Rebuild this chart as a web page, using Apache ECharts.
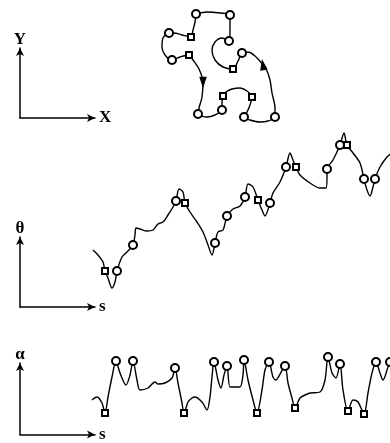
<!DOCTYPE html>
<html>
<head>
<meta charset="utf-8">
<script src="https://cdn.jsdelivr.net/npm/echarts@6/dist/echarts.min.js"></script>
<style>
  html, body { margin: 0; padding: 0; background: #fff; }
  #chart { width: 390px; height: 443px; }
</style>
</head>
<body>
<div id="chart"></div>
<script>
// closed contour in the X-Y plane: [x, y, marker]
const contourXY = [
  [46,116,'o'],[45,108],[43,100],[41,93,'s'],[32,95],[24,97],[19,97,'o'],
  [13,92],[12,83],[15,75],[22,70,'o'],[30,73],[39,75,'s'],[43,70],[49,61],
  [53,48,'dn'],[52,33],[49,22],[48,16,'o'],[57,13],[65,15],[72,20,'o'],
  [72,27],[73,34,'s'],[76,38],[82,41],[90,42],[97,39],[102,33,'s'],[100,25],
  [97,18],[94,13,'o'],[100,10],[110,8],[118,9],[125,13,'o'],[125,22],[122,37],
  [120,50],[117,59],[113,65,'up'],[105,74],[98,78],[92,77,'o'],[88,69],
  [83,61,'s'],[73,63],[65,70],[62,80],[65,88],[72,92],[79,89,'o'],[80,100],
  [80,115,'o'],[70,117],[57,118],[46,116]
];

// tangent angle theta versus arc length s
const thetaS = [
  [3,50],[8,45],[13,38],[15,29,'s'],[18,22],[22,12],[25,18],[27,29,'o'],
  [32,43],[37,48],[43,55,'o'],[45,65],[46,72],[50,71],[57,69],[63,70],
  [68,76],[73,78],[78,85],[83,93],[86,99,'o'],[89,111],[93,108],[95,97,'s'],
  [100,88],[107,78],[113,68],[118,55],[122,45],[125,57,'o'],[128,68],
  [133,70],[137,84,'o'],[143,91],[150,94],[155,103,'o'],[158,116],[163,113],
  [168,100,'s'],[172,90],[175,84],[180,97,'o'],[183,107],[190,118],
  [196,133,'o'],[200,147],[203,140],[206,133,'s'],[210,125],[220,117],
  [230,112],[236,112],[237,123],[237,131,'o'],[243,140],[250,155,'o'],
  [254,167],[257,155,'s'],[263,147],[270,137],[274,121,'o'],[277,110],
  [280,104],[283,113],[285,121,'o'],[290,133],[297,143],[302,147]
];

// curvature alpha versus arc length s
const alphaS = [
  [2,30],[7,33],[12,27],[15,17,'s'],[18,33],[22,53],[26,69,'o'],[30,57],
  [36,45],[40,55],[43,69,'o'],[47,50],[50,40],[58,42],[65,48],[68,46],
  [75,47],[82,52],[85,62,'o'],[88,47],[92,27],[94,17,'s'],[98,28],[102,32],
  [105,33],[112,28],[117,20],[120,33],[122,53],[124,68,'o'],[128,50],
  [131,42],[134,55],[137,64,'o'],[140,43],[145,43],[150,43],[153,55],
  [154,70,'o'],[158,50],[163,30],[167,17,'s'],[172,40],[175,60],[179,68,'o'],
  [183,53],[186,50],[189,54],[195,64,'o'],[198,47],[202,32],[205,22,'s'],
  [210,32],[215,35],[220,37],[230,38],[235,50],[238,73,'o'],[242,57],
  [246,52],[250,66,'o'],[253,40],[258,19,'s'],[263,30],[268,28],[274,16,'s'],
  [278,37],[282,57],[286,68,'o'],[290,57],[293,50],[298,63],[300,68,'o']
];

const markStyle = {
  o: { symbol: 'emptyCircle', symbolSize: 8 },
  s: { symbol: 'emptyRect', symbolSize: 6 },
  dn: { symbol: 'triangle', symbolSize: [6, 9], symbolRotate: 180 },
  up: { symbol: 'triangle', symbolSize: [6, 9], symbolRotate: 10 }
};

function toData(pts) {
  return pts.map(p => {
    const m = markStyle[p[2]];
    return Object.assign({ value: [p[0], p[1]] }, m ? m : { symbol: 'none' });
  });
}

function curve(data, idx) {
  return {
    type: 'line',
    xAxisIndex: idx,
    yAxisIndex: idx,
    data: toData(data),
    smooth: 0.3,
    showSymbol: true,
    showAllSymbol: true,
    lineStyle: { color: '#000', width: 1.4 },
    itemStyle: { color: '#000', borderColor: '#000', borderWidth: 1.2 },
    emphasis: { disabled: true },
    z: 3
  };
}

const labelFont = { fontFamily: 'Liberation Serif', fontWeight: 'bold', fontSize: 17, color: '#000' };

function hiddenAxis(min, max) {
  return { type: 'value', min: min, max: max, show: false };
}

function arrowAxis(name, gap) {
  return {
    type: 'value', min: 0, max: 1,
    name: name, nameLocation: 'end', nameGap: gap,
    nameTextStyle: labelFont,
    axisLine: {
      show: true, onZero: false,
      symbol: ['none', 'arrow'], symbolSize: [6, 8],
      lineStyle: { color: '#000', width: 1.5 }
    },
    axisTick: { show: false },
    axisLabel: { show: false },
    splitLine: { show: false }
  };
}

const myChart = echarts.init(document.getElementById('chart'));

const option = {
  animation: false,
  backgroundColor: '#fff',
  grid: [
    { left: 150, top: 0, width: 140, height: 130 },
    { left: 90, top: 120, width: 300, height: 180 },
    { left: 90, top: 340, width: 300, height: 90 },
    { left: 20, top: 48, width: 75, height: 70 },
    { left: 20, top: 237, width: 75, height: 70 },
    { left: 20, top: 363, width: 75, height: 75 }
  ],
  xAxis: [
    Object.assign(hiddenAxis(0, 140), { gridIndex: 0 }),
    Object.assign(hiddenAxis(0, 300), { gridIndex: 1 }),
    Object.assign(hiddenAxis(0, 300), { gridIndex: 2 }),
    Object.assign(arrowAxis('X', 4), { gridIndex: 3 }),
    Object.assign(arrowAxis('s', 4), { gridIndex: 4 }),
    Object.assign(arrowAxis('s', 4), { gridIndex: 5 })
  ],
  yAxis: [
    Object.assign(hiddenAxis(0, 130), { gridIndex: 0 }),
    Object.assign(hiddenAxis(0, 180), { gridIndex: 1 }),
    Object.assign(hiddenAxis(0, 90), { gridIndex: 2 }),
    Object.assign(arrowAxis('Y', 0), { gridIndex: 3 }),
    Object.assign(arrowAxis('θ', 0), { gridIndex: 4 }),
    Object.assign(arrowAxis('α', 0), { gridIndex: 5 })
  ],
  series: [
    curve(contourXY, 0),
    curve(thetaS, 1),
    curve(alphaS, 2)
  ]
};

myChart.setOption(option);
</script>
</body>
</html>
